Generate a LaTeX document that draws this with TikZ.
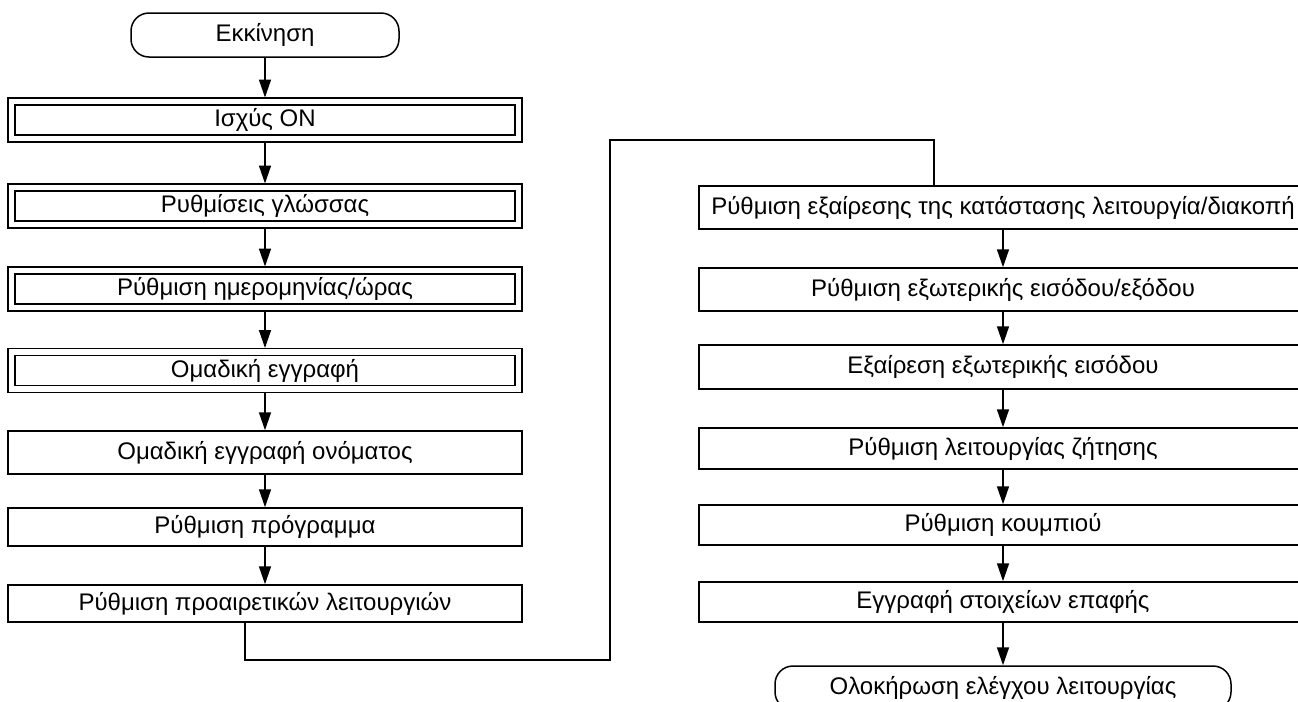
\documentclass[tikz,border=0pt]{standalone}
\usepackage{fontspec}
\setmainfont{Liberation Sans}
\usetikzlibrary{arrows.meta}
\tikzset{
  box/.style={
    draw,
    line width=0.75pt,
    inner sep=0pt,
    minimum width=257pt,
    minimum height=21pt,
    font=\fontsize{12}{14}\selectfont},
  dbox/.style={
    box,
    double,
    double distance=2.75pt,
    outer sep=2pt,
    minimum width=253.5pt,
    minimum height=18.5pt},
  wbox/.style={box, minimum width=304pt},
  term/.style={box, rounded corners=9pt, minimum height=22pt},
  flow/.style={
    ->,
    line width=0.75pt,
    >={Triangle[length=9pt,width=6pt]}}
  }

\begin{document}
\begin{tikzpicture}[x=0.5pt,y=-0.5pt]
    \useasboundingbox (0,0) rectangle (1298,702);
    \clip (0,0) rectangle (1298,702);
    % left column
    \node[term, minimum width=134pt] (start) at (265,35) {Εκκίνηση};
    \node[dbox] (power) at (265,120) {Ισχύς ON};
    \node[dbox] (lang) at (265,206) {Ρυθμίσεις γλώσσας};
    \node[dbox] (date) at (265,289) {Ρύθμιση ημερομηνίας/ώρας};
    \node[dbox] (group) at (265,370.5) {Ομαδική εγγραφή};
    \node[box, minimum height=21.5pt] (gname) at (265,452.5) {Ομαδική εγγραφή ονόματος};
    \node[box, minimum height=19pt] (prog) at (265,527) {Ρύθμιση πρόγραμμα};
    \node[box, minimum height=18.5pt] (opt) at (265,603.5) {Ρύθμιση προαιρετικών λειτουργιών};
    % right column
    \node[wbox, minimum height=21.5pt] (onoff) at (1003,207.5) {Ρύθμιση εξαίρεσης της κατάστασης λειτουργία/διακοπή};
    \node[wbox, minimum height=21.5pt] (extio) at (1003,289.5) {Ρύθμιση εξωτερικής εισόδου/εξόδου};
    \node[wbox, minimum height=22pt] (extin) at (1003,367) {Εξαίρεση εξωτερικής εισόδου};
    \node[wbox, minimum height=20.5pt] (demand) at (1003,448.5) {Ρύθμιση λειτουργίας ζήτησης};
    \node[wbox, minimum height=20pt] (button) at (1003,525) {Ρύθμιση κουμπιού};
    \node[wbox, minimum height=20pt] (contact) at (1003,602) {Εγγραφή στοιχείων επαφής};
    \node[term, minimum width=228pt] (finish) at (1003,688) {Ολοκήρωση ελέγχου λειτουργίας};
    \draw [flow]
      (start) edge[] (power)
      (power) edge[] (lang)
      (lang) edge[] (date)
      (date) edge[] (group)
      (group) edge[] (gname)
      (gname) edge[] (prog)
      (prog) edge[] (opt)
      (onoff) edge[] (extio)
      (extio) edge[] (extin)
      (extin) edge[] (demand)
      (demand) edge[] (button)
      (button) edge[] (contact)
      (contact) edge[] (finish);
    % jump to the second column
    \coordinate (low) at (610,660);
    \coordinate (high) at (610,140);
    \draw [line width=0.75pt]
      ([xshift=-10pt]opt.south) |- (low) -- (high) -| ([xshift=-34.5pt]onoff.north);
  \end{tikzpicture}
\end{document}
